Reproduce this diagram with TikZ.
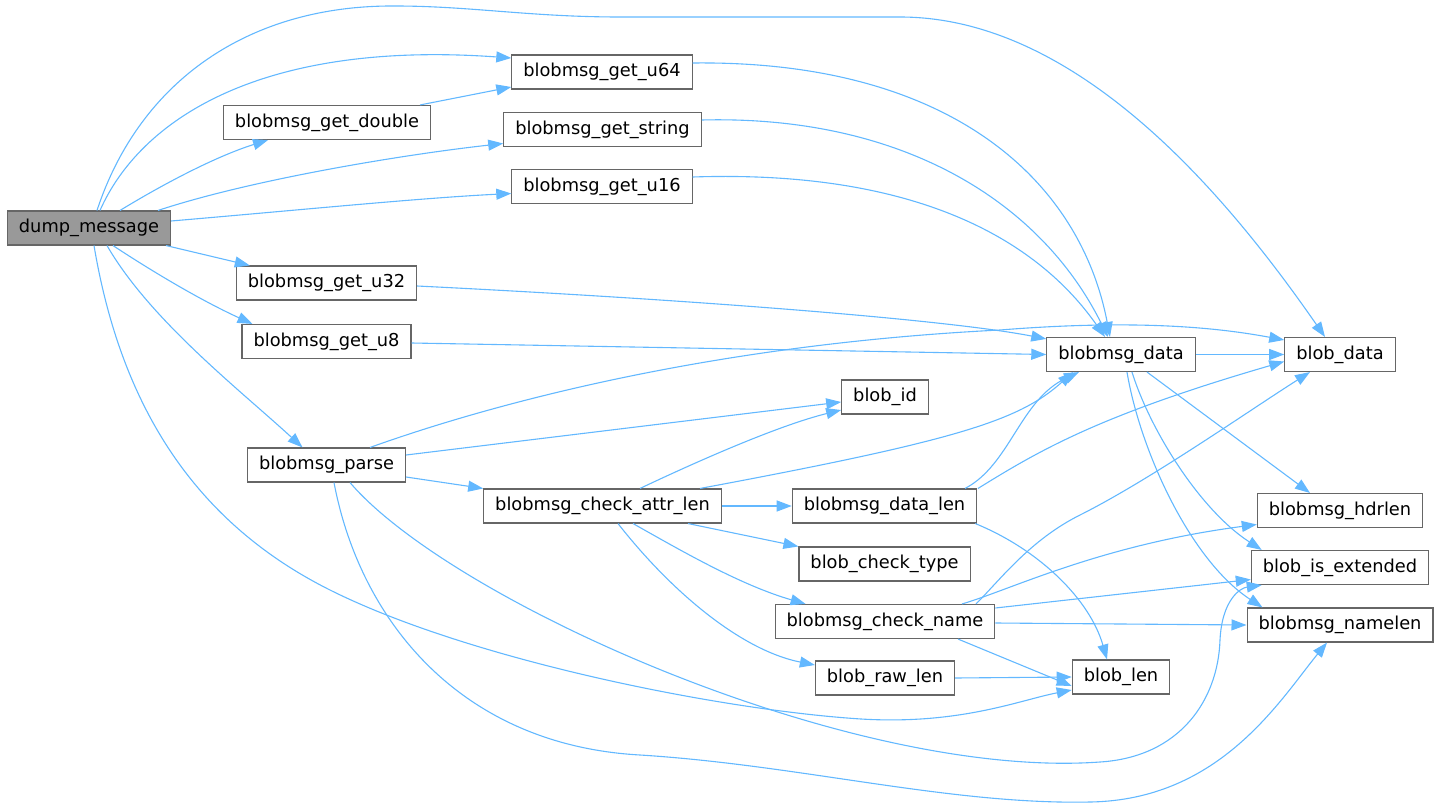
\documentclass[tikz,border=0pt]{standalone}
\usepackage{fontspec}
\setmainfont{DejaVu Sans}
\usetikzlibrary{arrows.meta}

\definecolor{edgeblue}{HTML}{63B8FF}
\definecolor{boxgray}{HTML}{666666}
\definecolor{rootgray}{HTML}{999999}

\tikzset{
  fn/.style={draw=boxgray, line width=1.1pt, fill=white, minimum height=34pt,
    inner xsep=11.5pt, inner ysep=0pt, font=\fontsize{17.8}{20}\selectfont},
  root/.style={fn, fill=rootgray},
  edge/.style={draw=edgeblue, line width=1.1pt, -{Triangle[length=15pt,width=11pt]}}
}

\begin{document}
\begin{tikzpicture}[x=1pt, y=-1pt]
  \useasboundingbox (0,0) rectangle (1441,808);

  % Draw the function boxes
  \node[root] (dm) at (89,228) {dump\_message};
  \node[fn] (dbl) at (327,122.5) {blobmsg\_get\_double};
  \node[fn] (u64) at (602,72) {blobmsg\_get\_u64};
  \node[fn] (str) at (602.5,129.5) {blobmsg\_get\_string};
  \node[fn] (u16) at (602,186.5) {blobmsg\_get\_u16};
  \node[fn] (u32) at (326.5,283) {blobmsg\_get\_u32};
  \node[fn] (u8) at (326.5,341.5) {blobmsg\_get\_u8};
  \node[fn] (parse) at (326.5,465) {blobmsg\_parse};
  \node[fn] (attr) at (602.5,506) {blobmsg\_check\_attr\_len};
  \node[fn] (bid) at (885,397) {blob\_id};
  \node[fn] (dlen) at (884.5,506) {blobmsg\_data\_len};
  \node[fn] (ctype) at (884.5,564) {blob\_check\_type};
  \node[fn] (cname) at (885,621.5) {blobmsg\_check\_name};
  \node[fn] (rawlen) at (885,678) {blob\_raw\_len};
  \node[fn] (bmdata) at (1121,354.5) {blobmsg\_data};
  \node[fn] (bdata) at (1340,354.5) {blob\_data};
  \node[fn] (blen) at (1121,677) {blob\_len};
  \node[fn] (hdr) at (1340,510.5) {blobmsg\_hdrlen};
  \node[fn] (isext) at (1340,567.5) {blob\_is\_extended};
  \node[fn] (nlen) at (1340,625) {blobmsg\_namelen};

  % Calls from dump_message
  \draw[edge] ([xshift=8pt]dm.north) .. controls (140,80) and (250,5) .. (395,6)
    .. controls (470,6) and (530,17) .. (620,17) -- (900,17)
    .. controls (1080,17) and (1230,200) .. ([xshift=-15pt]bdata.north);
  \draw[edge] ([xshift=11pt]dm.north) .. controls (140,120) and (260,40) .. ([yshift=14pt]u64.west);
  \draw[edge] ([xshift=31pt]dm.north) .. controls (170,180) and (220,155) .. ([xshift=-59pt]dbl.south);
  \draw[edge] ([xshift=69pt]dm.north) .. controls (250,180) and (400,155) .. ([yshift=-14pt]str.west);
  \draw[edge] ([yshift=7pt]dm.east) .. controls (300,210) and (420,198) .. ([yshift=-7pt]u16.west);
  \draw[edge] ([xshift=77pt]dm.south) -- ([xshift=14pt]u32.north west);
  \draw[edge] ([xshift=24pt]dm.south) .. controls (150,270) and (200,300) .. ([xshift=11pt]u8.north west);
  \draw[edge] ([xshift=18pt]dm.south) .. controls (150,320) and (240,390) .. ([xshift=-24pt]parse.north);
  \draw[edge] ([xshift=5pt]dm.south) .. controls (120,400) and (190,520) .. (330,590)
    .. controls (470,660) and (720,710) .. (861,719)
    .. controls (960,725) and (1020,700) .. ([yshift=-13pt]blen.west);

  % Second level
  \draw[edge] ([xshift=-11pt]dbl.north east) -- ([yshift=-15pt]u64.west);
  \draw[edge] ([yshift=9pt]u64.east) .. controls (950,60) and (1080,180) .. ([xshift=-11pt]bmdata.north);
  \draw[edge] ([yshift=9.5pt]str.east) .. controls (900,115) and (1040,200) .. ([xshift=-13pt]bmdata.north);
  \draw[edge] ([yshift=9.5pt]u16.east) .. controls (900,170) and (1030,230) .. ([xshift=-16pt]bmdata.north);
  \draw[edge] ([yshift=-3pt]u32.east) .. controls (700,300) and (950,320) .. ([yshift=-2pt]bmdata.north west);
  \draw[edge] ([yshift=-1.5pt]u8.east) -- (bmdata.west);

  % Calls from blobmsg_parse
  \draw[edge] ([xshift=-36pt]parse.north east) .. controls (480,408) and (700,345) .. (1000,330)
    .. controls (1150,318) and (1230,330) .. ([yshift=-3pt]bdata.north west);
  \draw[edge] ([yshift=10pt]parse.east) -- ([yshift=-5pt]bid.west);
  \draw[edge] ([yshift=-12pt]parse.east) -- (attr.north west);
  \draw[edge] ([xshift=23.5pt]parse.south) .. controls (450,600) and (850,780) .. (1100,762)
    .. controls (1180,757) and (1218,700) .. (1220,640)
    .. controls (1222,600) and (1240,588) .. ([xshift=11pt]isext.south west);
  \draw[edge] ([xshift=7.5pt]parse.south) .. controls (360,620) and (460,745) .. (640,755)
    .. controls (800,765) and (950,805) .. (1090,802)
    .. controls (1220,800) and (1280,700) .. ([xshift=-13pt]nlen.south);

  % Calls from blobmsg_check_attr_len
  \draw[edge] ([xshift=37.5pt]attr.north) .. controls (700,460) and (780,425) .. ([yshift=-13pt]bid.west);
  \draw[edge] ([xshift=97.5pt]attr.north) .. controls (960,440) and (1020,420) .. ([xshift=-48pt]bmdata.south);
  \draw[edge] (attr.east) -- (dlen.west);
  \draw[edge] ([xshift=85.5pt]attr.south) -- (ctype.north west);
  \draw[edge] ([xshift=30.5pt]attr.south) .. controls (680,550) and (740,585) .. ([xshift=31pt]cname.north west);
  \draw[edge] ([xshift=15.5pt]attr.south) .. controls (670,590) and (740,650) .. ([yshift=13pt]rawlen.west);

  % Calls from blobmsg_data_len
  \draw[edge] ([xshift=80.5pt]dlen.north) .. controls (1010,465) and (1020,400) .. ([xshift=-42pt]bmdata.south);
  \draw[edge] ([xshift=93.5pt]dlen.north) .. controls (1040,450) and (1100,415) .. ([yshift=-7pt]bdata.west);
  \draw[edge] ([xshift=-2pt]dlen.south east) .. controls (1040,550) and (1090,600) .. ([xshift=-14pt]blen.north);

  % Calls from blobmsg_check_name
  \draw[edge] ([xshift=91pt]cname.north) .. controls (1000,580) and (1030,540) .. (1080,515)
    .. controls (1150,480) and (1250,410) .. ([xshift=-30pt]bdata.south);
  \draw[edge] ([xshift=77pt]cname.north) .. controls (1010,590) and (1100,545) .. ([yshift=-14pt]hdr.west);
  \draw[edge] ([yshift=13.5pt]cname.east) -- ([yshift=-12pt]isext.west);
  \draw[edge] ([yshift=-1.5pt]cname.east) -- (nlen.west);
  \draw[edge] ([xshift=73pt]cname.south) -- ([yshift=-9pt]blen.west);
  \draw[edge] (rawlen.east) -- (blen.west);

  % Calls from blobmsg_data
  \draw[edge] (bmdata.east) -- (bdata.west);
  \draw[edge] ([xshift=26pt]bmdata.south) -- ([xshift=-30pt]hdr.north);
  \draw[edge] ([xshift=11pt]bmdata.south) .. controls (1150,430) and (1200,510) .. ([xshift=11pt]isext.north west);
  \draw[edge] ([xshift=6pt]bmdata.south) .. controls (1140,450) and (1190,560) .. ([xshift=16pt]nlen.north west);
\end{tikzpicture}
\end{document}
